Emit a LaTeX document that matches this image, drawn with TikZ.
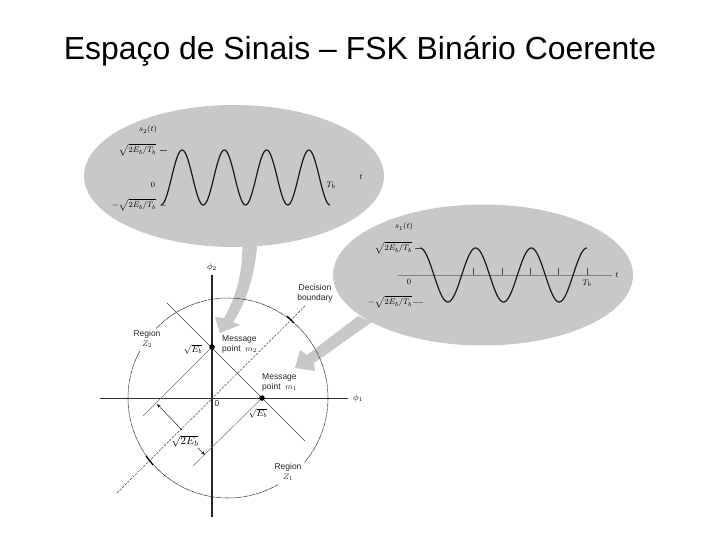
\documentclass[tikz,border=0pt]{standalone}
\usepackage{fontspec}
\setmainfont{Liberation Sans}
\usetikzlibrary{shapes.geometric,arrows.meta}
\definecolor{blobgray}{HTML}{C8C8C8}
\tikzset{
  blob/.style={ellipse,fill=blobgray,draw=none,inner sep=0pt,minimum width=300pt},
  pointer/.style={fill=blobgray,draw=none},
  wave/.style={line width=1.2pt,black!90,line join=round},
  lbl/.style={inner sep=0pt,font=\fontsize{8.5}{10}\selectfont,text=black!85},
  mathlbl/.style={inner sep=0pt,font=\fontsize{8}{9}\selectfont,text=black},
  axisthick/.style={line width=1.3pt,black!85},
  axisthin/.style={line width=0.8pt,black!80},
  grayaxis/.style={line width=0.6pt,black!50},
  tickm/.style={line width=0.7pt,black!70},
  bound/.style={line width=0.5pt,black!75},
  decis/.style={line width=0.5pt,black!75,dash pattern=on 2.5pt off 1.2pt},
  circ/.style={line width=0.55pt,black!75,dash pattern=on 6pt off 0.7pt},
  marker/.style={line width=1.2pt,black},
  dot/.style={circle,fill=black,inner sep=0pt,minimum size=5.5pt},
  dim/.style={line width=0.5pt,black!85,-{Stealth[length=4pt,width=3pt]}}
}
\begin{document}
\begin{tikzpicture}[x=1pt,y=-1pt]
\useasboundingbox (0,0) rectangle (720,540);
% title
\node[inner sep=0pt,font=\fontsize{31.9}{36}\selectfont] (title) at (360,51) {Espaço de Sinais – FSK Binário Coerente};
% pointers under the blobs
\fill[pointer] (242,235) .. controls (244,270) and (237,295) .. (224,318) -- (215,317) -- (220,333) -- (240,325) -- (233,322) .. controls (248,300) and (256,270) .. (258,235) -- cycle;
\fill[pointer] (358,316) -- (307,355) -- (300,350) -- (295,368) -- (315,371) -- (314,363) -- (372,322) -- cycle;
% blobs
\node[blob,minimum height=142pt] (blobA) at (234,176) {};
\node[blob,minimum height=141pt] (blobB) at (483,275) {};
% s2(t)
\draw[wave] plot[domain=0:169,samples=170,smooth] ({161+\x},{177.5+27.5*cos(\x/42.25*360)});
\coordinate (a1) at (160,150); \coordinate (a2) at (167,150);
\coordinate (a3) at (160,205); \coordinate (a4) at (166,205);
\draw[tickm] (a1) -- (a2);
\draw[grayaxis] (a3) -- (a4);
\node[mathlbl] (s2) at (148,130) {$s_2(t)$};
\node[mathlbl,anchor=east] (s2top) at (156,150) {$\sqrt{2E_b/T_b}$};
\node[mathlbl,anchor=east] (s2bot) at (156,205) {$-\sqrt{2E_b/T_b}$};
\node[mathlbl] (s2zero) at (153,185) {$0$};
\node[mathlbl] (s2T) at (331,185) {$T_b$};
\node[mathlbl] (s2t) at (361,177) {$t$};
% s1(t)
\coordinate (bx0) at (398,275); \coordinate (bx1) at (612,275);
\draw[grayaxis] (bx0) -- (bx1);
\foreach \tx/\nm in {473/ta,502/tb,530/tc,558/td,587/te}{
  \coordinate (\nm0) at (\tx,268); \coordinate (\nm1) at (\tx,275);
  \draw[tickm] (\nm0) -- (\nm1);
}
\draw[wave] plot[domain=0:167,samples=170,smooth] ({420+\x},{275-27*cos(\x/55.67*360)});
\coordinate (b1) at (415,248); \coordinate (b2) at (420,248);
\coordinate (b3) at (413,302); \coordinate (b4) at (423,302);
\draw[tickm] (b1) -- (b2);
\draw[grayaxis] (b3) -- (b4);
\node[mathlbl] (s1) at (404,227) {$s_1(t)$};
\node[mathlbl,anchor=east] (s1top) at (412,248) {$\sqrt{2E_b/T_b}$};
\node[mathlbl,anchor=east] (s1bot) at (412,302) {$-\sqrt{2E_b/T_b}$};
\node[mathlbl] (s1zero) at (409,282) {$0$};
\node[mathlbl] (s1T) at (587,283) {$T_b$};
\node[mathlbl] (s1t) at (617,275) {$t$};
% signal space
\draw[circ] plot[domain=-40:136,samples=90,smooth] ({228+100*cos(\x)},{398-100*sin(\x)});
\draw[circ] plot[domain=152:300,samples=80,smooth] ({228+100*cos(\x)},{398-100*sin(\x)});
\coordinate (p2t) at (212,275); \coordinate (p2b) at (212,517);
\coordinate (p1l) at (100,398); \coordinate (p1r) at (348,398);
\draw[axisthin] (p1l) -- (p1r);
\draw[axisthick] (p2t) -- (p2b);
\coordinate (d1) at (117,493); \coordinate (d2) at (305,306);
\draw[decis] (d1) -- (d2);
\coordinate (n1) at (167,303); \coordinate (n2) at (305,441);
\draw[bound] (n1) -- (n2);
\node[dot] (m2) at (212,347) {};
\node[dot] (m1) at (262,398) {};
\coordinate (l1) at (143,416); \coordinate (l2) at (193,466);
\draw[bound,black!55] (m2) -- (l1);
\draw[bound,black!55] (m1) -- (l2);
\coordinate (e1) at (287,316); \coordinate (e2) at (294,323);
\coordinate (e3) at (146,456); \coordinate (e4) at (153,465);
\draw[marker] (e1) -- (e2);
\draw[marker] (e3) -- (e4);
\coordinate (g1) at (182,430); \coordinate (g2) at (157,404);
\coordinate (g3) at (198,448); \coordinate (g4) at (205,455);
\draw[dim] (g1) -- (g2);
\draw[dim] (g3) -- (g4);
% labels
\node[mathlbl,font=\fontsize{9}{10}\selectfont] (phi2) at (212,267) {$\phi_2$};
\node[mathlbl,font=\fontsize{9}{10}\selectfont] (phi1) at (358,398) {$\phi_1$};
\node[lbl,align=center] (dec) at (315,293) {Decision\\boundary};
\node[lbl,align=center] (rz2) at (147,339) {Region\\$Z_2$};
\node[lbl,align=center] (rz1) at (288,471.5) {Region\\$Z_1$};
\node[lbl,align=left,anchor=west] (mp2) at (222,344.5) {Message\\point\ \ $m_2$};
\node[lbl,align=left,anchor=west] (mp1) at (262,382.5) {Message\\point\ \ $m_1$};
\node[mathlbl,font=\fontsize{9}{10}\selectfont] (se2) at (193,349) {$\sqrt{E_b}$};
\node[mathlbl,font=\fontsize{9}{10}\selectfont] (se1) at (258,413) {$\sqrt{E_b}$};
\node[lbl,font=\fontsize{8.5}{10}\selectfont] (zero) at (217,404) {0};
\node[mathlbl,font=\fontsize{11}{12}\selectfont] (s2e) at (185,441) {$\sqrt{2E_b}$};
\end{tikzpicture}
\end{document}
